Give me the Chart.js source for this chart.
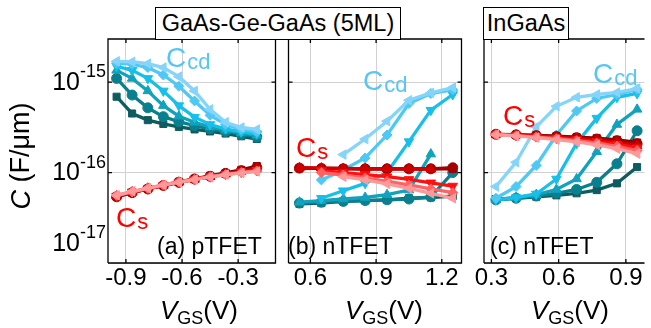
<!DOCTYPE html>
<html>
<head>
<meta charset="utf-8">
<script src="https://cdn.jsdelivr.net/npm/chart.js@4.4.1/dist/chart.umd.min.js"></script>
<style>
  body { margin: 0; width: 651px; height: 328px; overflow: hidden; background: #fff; position: relative; }
  canvas { position: absolute; top: 0; }
  .box { position: absolute; top: 7px; height: 33px; border: 1px solid #000; background: #fff; box-sizing: border-box;
         font-family: "Liberation Sans", Arial, sans-serif; font-size: 23.5px; line-height: 31px; text-align: center; z-index: 2; }
</style>
</head>
<body>
<canvas id="pa" width="282" height="328" style="left:0"></canvas>
<canvas id="pb" width="186" height="328" style="left:282px"></canvas>
<canvas id="pc" width="185" height="328" style="left:466px"></canvas>
<div class="box" style="left:155px;width:246px">GaAs-Ge-GaAs (5ML)</div>
<div class="box" style="left:483px;width:86px">InGaAs</div>
<script>
// gate voltages of each panel (V)
const vgsA = [-0.95, -0.867, -0.783, -0.7, -0.617, -0.533, -0.45, -0.367, -0.283, -0.2];
const vgsB = [0.55, 0.65, 0.75, 0.85, 0.95, 1.05, 1.15, 1.25];
const vgsC = [0.32, 0.41, 0.5, 0.59, 0.68, 0.77, 0.86, 0.95];

// (a) pTFET, GaAs-Ge-GaAs
const ccdA = [
  [6.9e-16, 4.5e-16, 3.8e-16, 3.45e-16, 3.2e-16, 3.0e-16, 2.85e-16, 2.7e-16, 2.52e-16, 2.35e-16],
  [1.1e-15, 7.2e-16, 5.2e-16, 4.15e-16, 3.65e-16, 3.3e-16, 3.05e-16, 2.85e-16, 2.65e-16, 2.48e-16],
  [1.35e-15, 1.1e-15, 8.0e-16, 5.5e-16, 4.2e-16, 3.6e-16, 3.2e-16, 2.95e-16, 2.75e-16, 2.58e-16],
  [1.5e-15, 1.35e-15, 1.1e-15, 8.0e-16, 5.5e-16, 4.1e-16, 3.4e-16, 3.05e-16, 2.82e-16, 2.68e-16],
  [1.62e-15, 1.58e-15, 1.45e-15, 1.2e-15, 9.0e-16, 6.2e-16, 4.3e-16, 3.4e-16, 3.0e-16, 2.82e-16],
  [1.7e-15, 1.68e-15, 1.6e-15, 1.45e-15, 1.15e-15, 8.0e-16, 5.0e-16, 3.6e-16, 3.15e-16, 3.0e-16]
];
const csA = [
  [5.4e-17, 6.0e-17, 6.6e-17, 7.2e-17, 7.9e-17, 8.5e-17, 9.2e-17, 9.9e-17, 1.07e-16, 1.18e-16],
  [5.4e-17, 6.0e-17, 6.6e-17, 7.2e-17, 7.8e-17, 8.5e-17, 9.1e-17, 9.8e-17, 1.05e-16, 1.14e-16],
  [5.5e-17, 6.1e-17, 6.7e-17, 7.2e-17, 7.8e-17, 8.4e-17, 9.0e-17, 9.6e-17, 1.03e-16, 1.1e-16],
  [5.5e-17, 6.1e-17, 6.6e-17, 7.2e-17, 7.8e-17, 8.4e-17, 9.0e-17, 9.6e-17, 1.02e-16, 1.06e-16],
  [5.6e-17, 6.1e-17, 6.7e-17, 7.3e-17, 7.9e-17, 8.4e-17, 9.0e-17, 9.5e-17, 1.0e-16, 1.04e-16],
  [5.6e-17, 6.2e-17, 6.7e-17, 7.3e-17, 7.8e-17, 8.4e-17, 8.9e-17, 9.5e-17, 9.9e-17, 1.03e-16]
];

// (b) nTFET, GaAs-Ge-GaAs
const ccdB = [
  [4.5e-17, 4.6e-17, 4.8e-17, 4.9e-17, 5.0e-17, 5.2e-17, 5.3e-17, 5.5e-17],
  [4.6e-17, 4.7e-17, 4.8e-17, 4.9e-17, 5.0e-17, 5.1e-17, 5.4e-17, 1.0e-16],
  [4.7e-17, 4.9e-17, 5.1e-17, 5.3e-17, 5.7e-17, 6.4e-17, 1.6e-16, null],
  [null, 5.2e-17, 6.3e-17, 7.6e-17, 1.0e-16, 2.2e-16, 4.9e-16, 7.3e-16],
  [null, 8.3e-17, 1.07e-16, 1.45e-16, 2.6e-16, 5.8e-16, 7.5e-16, 8.2e-16],
  [null, null, 1.58e-16, 2.35e-16, 3.7e-16, 6.3e-16, 7.6e-16, 8.7e-16]
];
const csB = [
  [1.12e-16, 1.11e-16, 1.11e-16, 1.1e-16, 1.1e-16, 1.1e-16, 1.1e-16, 1.1e-16],
  [1.12e-16, 1.11e-16, 1.1e-16, 1.1e-16, 1.1e-16, 1.1e-16, 1.1e-16, 1.13e-16],
  [1.13e-16, 1.12e-16, 1.11e-16, 1.1e-16, 1.1e-16, 1.1e-16, 1.09e-16, null],
  [null, 1.05e-16, 1.0e-16, 9.5e-17, 9.0e-17, 8.4e-17, 7.7e-17, 7.1e-17],
  [null, 1.0e-16, 9.4e-17, 8.7e-17, 8.0e-17, 7.3e-17, 6.6e-17, 6.0e-17],
  [null, null, 9.0e-17, 8.3e-17, 7.5e-17, 6.7e-17, 5.9e-17, 5.2e-17]
];

// (c) nTFET, InGaAs
const ccdC = [
  [5.1e-17, 5.2e-17, 5.4e-17, 5.6e-17, 5.9e-17, 6.4e-17, 7.6e-17, 1.15e-16],
  [5.0e-17, 5.2e-17, 5.5e-17, 5.9e-17, 6.5e-17, 7.8e-17, 1.25e-16, 2.9e-16],
  [5.0e-17, 5.3e-17, 5.7e-17, 6.5e-17, 8.5e-17, 1.7e-16, 3.4e-16, 5.0e-16],
  [5.0e-17, 5.3e-17, 5.8e-17, 8.5e-17, 2.1e-16, 4.0e-16, 6.8e-16, 7.5e-16],
  [5.2e-17, 7.0e-17, 1.2e-16, 2.6e-16, 4.8e-16, 6.6e-16, 7.3e-16, 8.3e-16],
  [7.0e-17, 1.3e-16, 3.2e-16, 5.4e-16, 6.8e-16, 7.3e-16, 7.7e-16, 8.5e-16]
];
const csC = [
  [2.65e-16, 2.62e-16, 2.58e-16, 2.53e-16, 2.47e-16, 2.4e-16, 2.3e-16, 2.15e-16],
  [2.65e-16, 2.61e-16, 2.56e-16, 2.5e-16, 2.43e-16, 2.35e-16, 2.25e-16, 2.08e-16],
  [2.64e-16, 2.6e-16, 2.54e-16, 2.47e-16, 2.38e-16, 2.28e-16, 2.16e-16, 1.98e-16],
  [2.64e-16, 2.58e-16, 2.5e-16, 2.42e-16, 2.32e-16, 2.2e-16, 2.06e-16, 1.88e-16],
  [2.63e-16, 2.56e-16, 2.47e-16, 2.37e-16, 2.25e-16, 2.11e-16, 1.95e-16, 1.75e-16],
  [2.62e-16, 2.54e-16, 2.44e-16, 2.32e-16, 2.18e-16, 2.02e-16, 1.84e-16, 1.62e-16]
];

const yTicks = [1e-17, 1e-16, 1e-15];
const yTickExp = ['-17', '-16', '-15'];
const xTicksA = [-0.9, -0.6, -0.3];
const xTicksB = [0.6, 0.9, 1.2];
const xTicksC = [0.3, 0.6, 0.9];
const xTickTextA = ['-0.9', '-0.6', '-0.3'];
const xTickTextB = ['0.6', '0.9', '1.2'];
const xTickTextC = ['0.3', '0.6', '0.9'];

const blues = ['#0e5b60', '#0a7f8e', '#11a2bd', '#17bfe9', '#4ec8f4', '#86d4f9'];
const reds = ['#7d0000', '#a50000', '#d00000', '#ff1010', '#ff6262', '#ff9999'];
const marks = ['rect', 'circle', 'triangle', 'triangle', 'rectRot', 'triangle'];
const turns = [0, 0, 0, 180, 0, 270];

const FONT = '"Liberation Sans", Arial, sans-serif';

function series(xs, vals, color, i) {
  return {
    data: xs.map((x, k) => ({ x: x, y: vals[k] })),
    borderColor: color,
    backgroundColor: color,
    borderWidth: 3.3,
    pointStyle: marks[i],
    rotation: turns[i],
    pointRadius: marks[i] === 'triangle' ? 5.5 : 5,
    pointBorderWidth: 1,
    tension: 0,
    spanGaps: false
  };
}

// C with a subscript, used for the Ccd / Cs tags
function tag(ctx, x, base, sub, color) {
  ctx.fillStyle = color;
  ctx.textAlign = 'left';
  ctx.textBaseline = 'alphabetic';
  ctx.font = '28px ' + FONT;
  ctx.fillText('C', x, base);
  const w = ctx.measureText('C').width;
  ctx.font = '22px ' + FONT;
  ctx.fillText(sub, x + w + 1, base + 2);
}

function makePanel(p) {
  const left = p.offset;
  const deco = {
    id: 'deco',
    afterDraw(chart) {
      const ctx = chart.ctx;
      const a = chart.chartArea;
      const sx = chart.scales.x, sy = chart.scales.y;
      ctx.save();
      // frame and small inner ticks
      ctx.strokeStyle = '#000';
      ctx.lineWidth = 1.3;
      ctx.beginPath();
      ctx.moveTo(a.left, a.bottom); ctx.lineTo(a.left, a.top); ctx.lineTo(a.right, a.top);
      if (p.rightBorder) ctx.lineTo(a.right, a.bottom); else ctx.moveTo(a.right, a.bottom);
      ctx.lineTo(a.left, a.bottom);
      yTicks.forEach(v => {
        const y = sy.getPixelForValue(v);
        ctx.moveTo(a.left, y); ctx.lineTo(a.left + 4, y);
        if (p.rightBorder) { ctx.moveTo(a.right, y); ctx.lineTo(a.right - 4, y); }
      });
      p.xTicks.forEach(v => {
        const x = sx.getPixelForValue(v);
        ctx.moveTo(x, a.bottom); ctx.lineTo(x, a.bottom - 4);
        ctx.moveTo(x, a.top); ctx.lineTo(x, a.top + 4);
      });
      ctx.stroke();

      // x tick labels
      ctx.fillStyle = '#000';
      ctx.font = '24px ' + FONT;
      ctx.textAlign = 'center';
      ctx.textBaseline = 'alphabetic';
      p.xTicks.forEach((v, i) => ctx.fillText(p.xTickText[i], sx.getPixelForValue(v), 285));

      // x title  V_GS(V)
      ctx.textAlign = 'left';
      ctx.font = 'italic 26px ' + FONT;
      const wV = ctx.measureText('V').width;
      ctx.font = '18px ' + FONT;
      const wG = ctx.measureText('GS').width;
      ctx.font = '26px ' + FONT;
      const wP = ctx.measureText('(V)').width;
      let x0 = p.xTitle - left - (wV + wG + wP) / 2;
      ctx.font = 'italic 26px ' + FONT;
      ctx.fillText('V', x0, 319);
      ctx.font = '18px ' + FONT;
      ctx.fillText('GS', x0 + wV, 324);
      ctx.font = '26px ' + FONT;
      ctx.fillText('(V)', x0 + wV + wG, 319);

      // panel name
      ctx.font = '23px ' + FONT;
      ctx.fillText(p.name, p.nameX - left, 254);

      // tags
      tag(ctx, p.ccdAt[0] - left, p.ccdAt[1], 'cd', '#55c6f5');
      tag(ctx, p.csAt[0] - left, p.csAt[1], 's', '#ff0000');

      if (p.yLabels) {
        ctx.fillStyle = '#000';
        yTicks.forEach((v, i) => {
          let y = sy.getPixelForValue(v);
          if (i === 0) y -= 20;
          ctx.font = '18px ' + FONT;
          const ws = ctx.measureText(yTickExp[i]).width;
          ctx.textBaseline = 'middle';
          ctx.textAlign = 'right';
          ctx.fillText(yTickExp[i], 106, y - 10);
          ctx.font = '25px ' + FONT;
          ctx.fillText('10', 106 - ws, y + 1);
        });
        // y title
        ctx.translate(22, 156);
        ctx.rotate(-Math.PI / 2);
        ctx.textBaseline = 'middle';
        ctx.textAlign = 'left';
        ctx.font = 'italic 27px ' + FONT;
        const wc = ctx.measureText('C').width;
        ctx.font = '27px ' + FONT;
        const wr = ctx.measureText(' (F/\u03bcm)').width;
        ctx.font = 'italic 27px ' + FONT;
        ctx.fillText('C', -(wc + wr) / 2, 0);
        ctx.font = '27px ' + FONT;
        ctx.fillText(' (F/\u03bcm)', -(wc + wr) / 2 + wc, 0);
      }
      ctx.restore();
    }
  };

  const sets = [];
  p.ccd.forEach((vals, i) => sets.push(series(p.xs, vals, blues[i], i)));
  p.cs.forEach((vals, i) => sets.push(series(p.xs, vals, reds[i], i)));
  sets.reverse(); // first dataset is painted last

  new Chart(document.getElementById(p.id), {
    type: 'line',
    data: { datasets: sets },
    options: {
      responsive: false,
      animation: false,
      events: [],
      layout: { padding: p.pad },
      plugins: { legend: { display: false }, tooltip: { enabled: false } },
      scales: {
        x: {
          type: 'linear', min: p.xMin, max: p.xMax,
          ticks: { display: false },
          grid: { color: '#d2d2d2', lineWidth: 1, drawTicks: false },
          border: { display: false },
          afterBuildTicks: s => { s.ticks = p.xTicks.map(v => ({ value: v })); },
          afterFit: s => { s.height = 0; }
        },
        y: {
          type: 'logarithmic', min: 1e-17, max: 3e-15,
          ticks: { display: false },
          grid: { color: '#d2d2d2', lineWidth: 1, drawTicks: false },
          border: { display: false },
          afterBuildTicks: s => { s.ticks = yTicks.map(v => ({ value: v })); },
          afterFit: s => { s.width = 0; }
        }
      }
    },
    plugins: [deco]
  });
}

makePanel({
  id: 'pa', offset: 0, xs: vgsA, ccd: ccdA, cs: csA, xMin: -0.996, xMax: -0.1,
  xTicks: xTicksA, xTickText: xTickTextA, pad: { left: 108, right: 3, top: 39, bottom: 65 },
  rightBorder: true, yLabels: true, xTitle: 199, name: '(a) pTFET', nameX: 157,
  ccdAt: [166, 67], csAt: [116, 227]
});
makePanel({
  id: 'pb', offset: 282, xs: vgsB, ccd: ccdB, cs: csB, xMin: 0.5, xMax: 1.29,
  xTicks: xTicksB, xTickText: xTickTextB, pad: { left: 2, right: 4, top: 39, bottom: 65 },
  rightBorder: true, yLabels: false, xTitle: 384, name: '(b) nTFET', nameX: 288,
  ccdAt: [363, 90], csAt: [296, 157]
});
makePanel({
  id: 'pc', offset: 466, xs: vgsC, ccd: ccdC, cs: csC, xMin: 0.267, xMax: 0.983,
  xTicks: xTicksC, xTickText: xTickTextC, pad: { left: 18, right: 0, top: 39, bottom: 65 },
  rightBorder: false, yLabels: false, xTitle: 570, name: '(c) nTFET', nameX: 490,
  ccdAt: [593, 83], csAt: [503, 125]
});
</script>
</body>
</html>
